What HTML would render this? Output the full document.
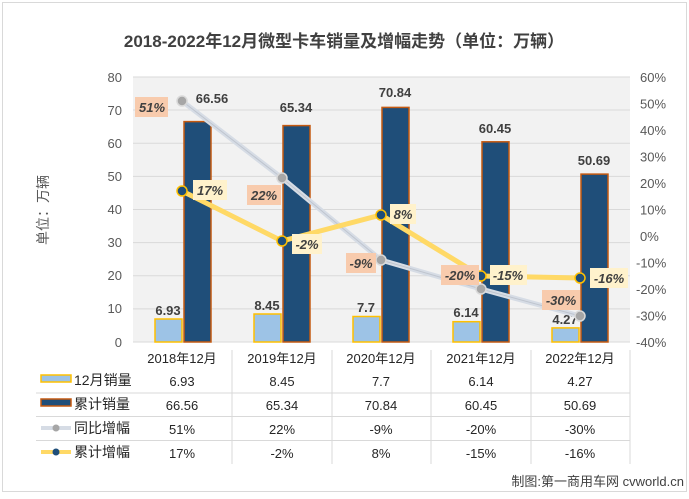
<!DOCTYPE html>
<html><head><meta charset="utf-8"><style>
body{margin:0;background:#fff;}
svg text{font-family:"Liberation Sans","Noto Sans CJK SC",sans-serif;}
</style></head><body>
<svg width="689" height="494" viewBox="0 0 689 494" xmlns="http://www.w3.org/2000/svg">
<rect x="2.5" y="2.5" width="684" height="489" fill="#fff" stroke="#d9d9d9"/>
<text x="344" y="47" text-anchor="middle" font-size="17" font-weight="bold" fill="#404040">2018-2022年12月微型卡车销量及增幅走势（单位：万辆）</text>
<rect x="133" y="77" width="497" height="265" fill="#f2f2f2"/>
<g stroke="#d9d9d9" stroke-width="1">
<line x1="133" x2="630" y1="77" y2="77"/><line x1="133" x2="630" y1="110" y2="110"/>
<line x1="133" x2="630" y1="143.3" y2="143.3"/><line x1="133" x2="630" y1="176.4" y2="176.4"/>
<line x1="133" x2="630" y1="209.5" y2="209.5"/><line x1="133" x2="630" y1="242.6" y2="242.6"/>
<line x1="133" x2="630" y1="275.8" y2="275.8"/><line x1="133" x2="630" y1="308.9" y2="308.9"/>
<line x1="133" x2="630" y1="342" y2="342"/>
</g>
<g font-size="13" fill="#595959" text-anchor="end">
<text x="122" y="82">80</text><text x="122" y="115">70</text><text x="122" y="148">60</text><text x="122" y="181">50</text><text x="122" y="214">40</text><text x="122" y="247">30</text><text x="122" y="280">20</text><text x="122" y="313">10</text><text x="122" y="347">0</text>
</g>
<g font-size="13" fill="#595959" text-anchor="start">
<text x="640" y="82">60%</text><text x="640" y="108.5">50%</text><text x="640" y="135">40%</text><text x="640" y="161.5">30%</text><text x="640" y="188">20%</text><text x="640" y="214.5">10%</text><text x="640" y="241">0%</text><text x="636" y="267.5">-10%</text><text x="636" y="294">-20%</text><text x="636" y="320.5">-30%</text><text x="636" y="347">-40%</text>
</g>
<text transform="translate(48,210) rotate(-90)" text-anchor="middle" font-size="14" fill="#595959">单位：万辆</text>
<!-- bars -->
<g stroke-width="1.5">
<rect x="155" y="319" width="27" height="23" fill="#9dc3e6" stroke="#ffc000"/>
<rect x="184" y="121.6" width="27" height="220.4" fill="#1f4e79" stroke="#c55a11"/>
<rect x="254" y="314" width="27" height="28" fill="#9dc3e6" stroke="#ffc000"/>
<rect x="283" y="125.6" width="27" height="216.4" fill="#1f4e79" stroke="#c55a11"/>
<rect x="353" y="316.5" width="27" height="25.5" fill="#9dc3e6" stroke="#ffc000"/>
<rect x="382" y="107.4" width="27" height="234.6" fill="#1f4e79" stroke="#c55a11"/>
<rect x="453" y="321.7" width="27" height="20.3" fill="#9dc3e6" stroke="#ffc000"/>
<rect x="482" y="141.8" width="27" height="200.2" fill="#1f4e79" stroke="#c55a11"/>
<rect x="552" y="327.9" width="27" height="14.1" fill="#9dc3e6" stroke="#ffc000"/>
<rect x="581" y="174.1" width="27" height="167.9" fill="#1f4e79" stroke="#c55a11"/>
</g>
<g font-size="13" font-weight="bold" fill="#404040" text-anchor="middle">
<text x="168" y="315">6.93</text><text x="267" y="310">8.45</text><text x="366" y="312">7.7</text><text x="466" y="317">6.14</text><text x="565" y="324">4.27</text>
<text x="212" y="103">66.56</text><text x="296" y="112">65.34</text><text x="395" y="97">70.84</text><text x="495" y="133">60.45</text><text x="594" y="165">50.69</text>
</g>
<!-- lines -->
<polyline points="182,101 282,178 381,260 481,289 580,316" fill="none" stroke="#d6dce5" stroke-width="5"/>
<polyline points="182,101 282,178 381,260 481,289 580,316" fill="none" stroke="#bfc5cf" stroke-width="1"/>
<polyline points="182,191 282,241 381,215 481,276 580,278" fill="none" stroke="#ffd966" stroke-width="5"/>
<g fill="#a6a6a6" stroke="#d9d9d9" stroke-width="1.5">
<circle cx="182" cy="101" r="5"/><circle cx="282" cy="178" r="5"/><circle cx="381" cy="260" r="5"/><circle cx="481" cy="289" r="5"/><circle cx="580" cy="316" r="5"/>
</g>
<g fill="#1f4e79" stroke="#ffc000" stroke-width="1.5">
<circle cx="182" cy="191" r="5"/><circle cx="282" cy="241" r="5"/><circle cx="381" cy="215" r="5"/><circle cx="481" cy="276" r="5"/><circle cx="580" cy="278" r="5"/>
</g>
<g font-size="13" font-weight="bold" font-style="italic" fill="#404040" text-anchor="middle">
<rect x="135" y="97" width="33" height="20" fill="#f8cbad"/><text x="152" y="112">51%</text>
<rect x="247" y="185" width="34" height="20" fill="#f8cbad"/><text x="264" y="200">22%</text>
<rect x="346" y="253" width="30" height="20" fill="#f8cbad"/><text x="361" y="268">-9%</text>
<rect x="441" y="265" width="38" height="20" fill="#f8cbad"/><text x="460" y="280">-20%</text>
<rect x="542" y="290" width="38" height="20" fill="#f8cbad"/><text x="561" y="305">-30%</text>
<rect x="193" y="180" width="34" height="20" fill="#fff2cc"/><text x="210" y="195">17%</text>
<rect x="292" y="234" width="30" height="20" fill="#fff2cc"/><text x="307" y="249">-2%</text>
<rect x="390" y="204" width="26" height="20" fill="#fff2cc"/><text x="403" y="219">8%</text>
<rect x="490" y="265" width="37" height="20" fill="#fff2cc"/><text x="508" y="280">-15%</text>
<rect x="590" y="268" width="38" height="20" fill="#fff2cc"/><text x="609" y="283">-16%</text>
</g>
<!-- table -->
<g stroke="#d9d9d9" stroke-width="1">
<line x1="232" x2="232" y1="350" y2="464"/><line x1="332" x2="332" y1="350" y2="464"/><line x1="431" x2="431" y1="350" y2="464"/><line x1="531" x2="531" y1="350" y2="464"/><line x1="630" x2="630" y1="350" y2="464"/>
<line x1="36" x2="630" y1="393" y2="393"/><line x1="36" x2="630" y1="416.5" y2="416.5"/><line x1="36" x2="630" y1="440.5" y2="440.5"/>
</g>
<g font-size="13" fill="#262626" text-anchor="middle">
<text x="182" y="363">2018年12月</text><text x="282" y="363">2019年12月</text><text x="381" y="363">2020年12月</text><text x="481" y="363">2021年12月</text><text x="580" y="363">2022年12月</text>
<text x="182" y="386">6.93</text><text x="282" y="386">8.45</text><text x="381" y="386">7.7</text><text x="481" y="386">6.14</text><text x="580" y="386">4.27</text>
<text x="182" y="410">66.56</text><text x="282" y="410">65.34</text><text x="381" y="410">70.84</text><text x="481" y="410">60.45</text><text x="580" y="410">50.69</text>
<text x="182" y="434">51%</text><text x="282" y="434">22%</text><text x="381" y="434">-9%</text><text x="481" y="434">-20%</text><text x="580" y="434">-30%</text>
<text x="182" y="458">17%</text><text x="282" y="458">-2%</text><text x="381" y="458">8%</text><text x="481" y="458">-15%</text><text x="580" y="458">-16%</text>
</g>
<rect x="41" y="375" width="30" height="7" fill="#9dc3e6" stroke="#ffc000" stroke-width="1.5"/>
<rect x="41" y="399" width="30" height="7" fill="#1f4e79" stroke="#c55a11" stroke-width="1.5"/>
<line x1="41" x2="71" y1="428" y2="428" stroke="#d6dce5" stroke-width="4"/><circle cx="56" cy="428" r="3.5" fill="#a6a6a6"/>
<line x1="41" x2="71" y1="452" y2="452" stroke="#ffd966" stroke-width="4"/><circle cx="56" cy="452" r="3.5" fill="#1f4e79"/>
<g font-size="14" fill="#262626">
<text x="74" y="385">12月销量</text><text x="74" y="409">累计销量</text><text x="74" y="433">同比增幅</text><text x="74" y="457">累计增幅</text>
</g>
<text x="684" y="486" text-anchor="end" font-size="13" fill="#404040">制图:第一商用车网 cvworld.cn</text>
</svg>
</body></html>
